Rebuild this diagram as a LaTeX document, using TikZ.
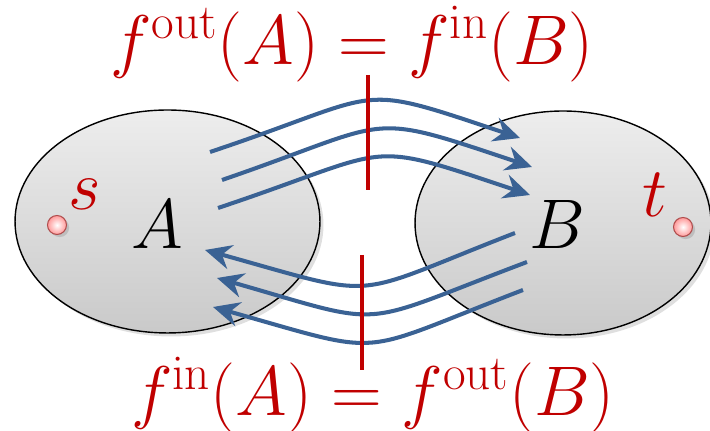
\documentclass[tikz,border=0pt]{standalone}
\usepackage{fix-cm}
\usepackage{amsmath}
\usepackage{tikz}
\usetikzlibrary{shapes,arrows.meta,shadows}

\definecolor{cutred}{RGB}{192,0,0}
\definecolor{flowblue}{RGB}{58,98,148}

\tikzset{
    cutset/.style={ellipse, draw=black, line width=0.8pt, top color=gray!14, bottom color=gray!42,
        inner sep=0pt, drop shadow={opacity=0.25, shadow xshift=2pt, shadow yshift=-2pt}},
    terminal/.style={circle, minimum size=0.38cm, inner sep=0pt, draw=red!55!black!70, line width=0.6pt,
        inner color=white, outer color=red!40, drop shadow={opacity=0.3, shadow xshift=1.5pt, shadow yshift=-1.5pt}},
    flow/.style={flowblue, line width=2.3pt, -{Stealth[length=15pt, width=14pt, inset=5pt]}},
    cut/.style={cutred, line width=2.8pt},
    big/.style={font=\fontsize{40}{48}\selectfont, inner sep=0pt},
}

\begin{document}
\begin{tikzpicture}[x=0.02cm, y=0.02cm]
    \useasboundingbox (0,0) rectangle (710,431);

    % Sets A and B
    \node[cutset, minimum width=6.1cm, minimum height=4.46cm] (setA) at (167.5,209.5) {};
    \node[cutset, minimum width=5.92cm, minimum height=4.48cm] (setB) at (563,208) {};

    % Source and sink
    \node[terminal] (s) at (57,206) {};
    \node[terminal] (t) at (683,204) {};
    \node[big, text=cutred] (slabel) at (85,237) {$s$};
    \node[big, text=cutred] (tlabel) at (655,236) {$t$};
    \node[big] (Alabel) at (157,207) {$A$};
    \node[big] (Blabel) at (557,207) {$B$};

    % Flow from A to B
    \coordinate (o1) at (210,279); \coordinate (i1) at (520,293);
    \coordinate (o2) at (222,251); \coordinate (i2) at (532,264);
    \coordinate (o3) at (218,223); \coordinate (i3) at (530,236);
    \draw[flow] (o1) .. controls +(180,60) and +(-170,57) .. (i1);
    \draw[flow] (o2) .. controls +(175,60) and +(-170,57) .. (i2);
    \draw[flow] (o3) .. controls +(180,60) and +(-170,57) .. (i3);

    % Flow from B to A
    \coordinate (p1) at (515,198); \coordinate (q1) at (205,181);
    \coordinate (p2) at (527,169); \coordinate (q2) at (217,153);
    \coordinate (p3) at (523,141); \coordinate (q3) at (213,124);
    \draw[flow] (p1) .. controls +(-170,-66) and +(180,-50) .. (q1);
    \draw[flow] (p2) .. controls +(-175,-66) and +(175,-50) .. (q2);
    \draw[flow] (p3) .. controls +(-172,-66) and +(178,-50) .. (q3);

    % Cuts
    \coordinate (c1) at (368,356); \coordinate (c2) at (368,241);
    \coordinate (c3) at (362,176); \coordinate (c4) at (362,61);
    \draw[cut] (c1) -- (c2);
    \draw[cut] (c3) -- (c4);

    % Labels
    \node[big, text=cutred] (toplabel) at (352,387) {$f^{\mathrm{out}}(A) = f^{\mathrm{in}}(B)$};
    \node[big, text=cutred] (botlabel) at (373,36) {$f^{\mathrm{in}}(A) = f^{\mathrm{out}}(B)$};
\end{tikzpicture}
\end{document}
